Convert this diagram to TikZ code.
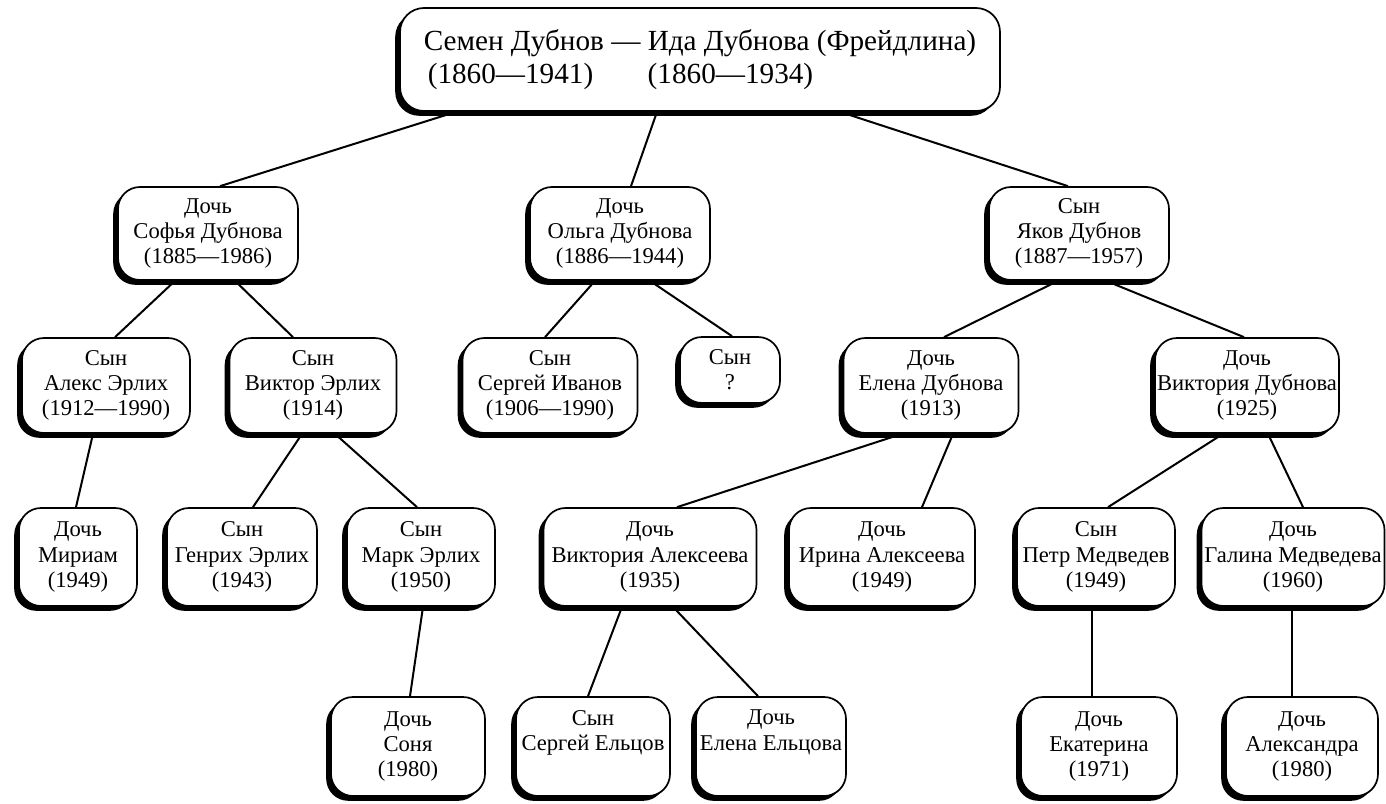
\documentclass[tikz,border=0pt]{standalone}
\usepackage{fontspec}
\setmainfont{Liberation Serif}
\usetikzlibrary{shadows,calc,backgrounds}
\begin{document}
\begin{tikzpicture}[x=0.5pt,y=-0.5pt,
  pbox/.style={draw, line width=0.85pt, fill=white, rounded corners=11pt, align=center, inner sep=0pt,
    font=\fontsize{11.3}{12.6}\selectfont,
    drop shadow={shadow xshift=-2.4pt, shadow yshift=-2.4pt, fill=black, opacity=1}},
  lvlone/.style={pbox, minimum width=90pt, minimum height=46.5pt},
  lvltwo/.style={pbox, minimum height=47.5pt},
  lvlthree/.style={pbox, minimum height=49pt},
  lvlfour/.style={pbox, minimum height=49.5pt},
  link/.style={line width=1pt}]
\useasboundingbox (0,0) rectangle (1386,803);

% root
\node[pbox, minimum width=300pt, minimum height=51.5pt, rounded corners=12pt,
  font=\fontsize{14.6}{16.5}\selectfont, align=left] (root) at (700,59.5)
  {Семен Дубнов — Ида Дубнова (Фрейдлина)\\
   \rlap{\hspace{2pt}(1860—1941)}\phantom{Семен Дубнов — }(1860—1934)};

% level 1
\node[lvlone] (sofia) at (208,233.5) {Дочь\\Софья Дубнова\\(1885—1986)};
\node[lvlone] (olga)  at (620,233.5) {Дочь\\Ольга Дубнова\\(1886—1944)};
\node[lvlone] (yakov) at (1079,233.5) {Сын\\Яков Дубнов\\(1887—1957)};

% level 2
\node[lvltwo, minimum width=84pt]   (aleks)   at (106,385.5) {Сын\\Алекс Эрлих\\(1912—1990)};
\node[lvltwo, minimum width=83.5pt] (viktor)  at (313,385.5) {Сын\\Виктор Эрлих\\(1914)};
\node[lvltwo, minimum width=87.5pt] (sergeii) at (550,385.5) {Сын\\Сергей Иванов\\(1906—1990)};
\node[pbox, minimum width=50pt, minimum height=33pt] (synq) at (730,370) {Сын\\?};
\node[lvltwo, minimum width=87.5pt] (elenad)  at (931,385.5) {Дочь\\Елена Дубнова\\(1913)};
\node[lvltwo, minimum width=92pt]   (vikd)    at (1247,385.5) {Дочь\\Виктория Дубнова\\(1925)};

% level 3
\node[lvlthree, minimum width=59pt]    (miriam)  at (78,557)   {Дочь\\Мириам\\(1949)};
\node[lvlthree, minimum width=75pt]    (genrikh) at (242,557)  {Сын\\Генрих Эрлих\\(1943)};
\node[lvlthree, minimum width=74pt]    (mark)    at (421,557)  {Сын\\Марк Эрлих\\(1950)};
\node[lvlthree, minimum width=106.5pt] (vika)    at (650,557)  {Дочь\\Виктория Алексеева\\(1935)};
\node[lvlthree, minimum width=93pt]    (irina)   at (882,557)  {Дочь\\Ирина Алексеева\\(1949)};
\node[lvlthree, minimum width=79pt]    (petr)    at (1096,557) {Сын\\Петр Медведев\\(1949)};
\node[lvlthree, minimum width=91.5pt]  (galina)  at (1293,557) {Дочь\\Галина Медведева\\(1960)};

% level 4
\node[lvlfour, minimum width=77pt] (sonya)     at (408,746.5)  {Дочь\\Соня\\(1980)};
\node[lvlfour, minimum width=77pt] (sergeie)   at (593,746.5)  {Сын\\Сергей Ельцов\\\strut};
\node[lvlfour, minimum width=75pt] (elenae)    at (771,746.5)  {Дочь\\Елена Ельцова\\\strut};
\node[lvlfour, minimum width=78pt] (ekaterina) at (1099,746.5) {Дочь\\Екатерина\\(1971)};
\node[lvlfour, minimum width=76pt] (aleksandra) at (1302,746.5) {Дочь\\Александра\\(1980)};

\begin{scope}[on background layer]
\draw[link] ($(root.south)+(-244,0)$) -- ($(sofia.north)+(12,0)$);
\draw[link] ($(root.south)+(-43,0)$)  -- ($(olga.north)+(11,0)$);
\draw[link] ($(root.south)+(140,0)$)  -- ($(yakov.north)+(-11,0)$);

\draw[link] ($(sofia.south)+(-33,0)$) -- ($(aleks.north)+(9,0)$);
\draw[link] ($(sofia.south)+(27,0)$)  -- ($(viktor.north)+(-20,0)$);
\draw[link] ($(olga.south)+(-25,0)$)  -- ($(sergeii.north)+(-5,0)$);
\draw[link] ($(olga.south)+(30,0)$)   -- ($(synq.north)+(2,0)$);
\draw[link] ($(yakov.south)+(-21,0)$) -- ($(elenad.north)+(13,0)$);
\draw[link] ($(yakov.south)+(27,0)$)  -- ($(vikd.north)+(-3,0)$);

\draw[link] ($(aleks.south)+(-13,0)$)  -- ($(miriam.north)+(-2,0)$);
\draw[link] ($(viktor.south)+(-11,0)$) -- ($(genrikh.north)+(11,0)$);
\draw[link] ($(viktor.south)+(22,0)$)  -- ($(mark.north)+(-4,0)$);
\draw[link] ($(elenad.south)+(-29,0)$) -- ($(vika.north)+(27,0)$);
\draw[link] ($(elenad.south)+(22,0)$)  -- ($(irina.north)+(40,0)$);
\draw[link] ($(vikd.south)+(-24,0)$)   -- ($(petr.north)+(12,0)$);
\draw[link] ($(vikd.south)+(21,0)$)    -- ($(galina.north)+(10,0)$);

\draw[link] ($(mark.south)+(2,0)$)    -- ($(sonya.north)+(2,0)$);
\draw[link] ($(vika.south)+(-28,0)$)  -- ($(sergeie.north)+(-5,0)$);
\draw[link] ($(vika.south)+(23,0)$)   -- ($(elenae.north)+(-13,0)$);
\draw[link] ($(petr.south)+(-4,0)$)   -- ($(ekaterina.north)+(-7,0)$);
\draw[link] ($(galina.south)+(-1,0)$) -- ($(aleksandra.north)+(-10,0)$);
\end{scope}
\end{tikzpicture}
\end{document}
